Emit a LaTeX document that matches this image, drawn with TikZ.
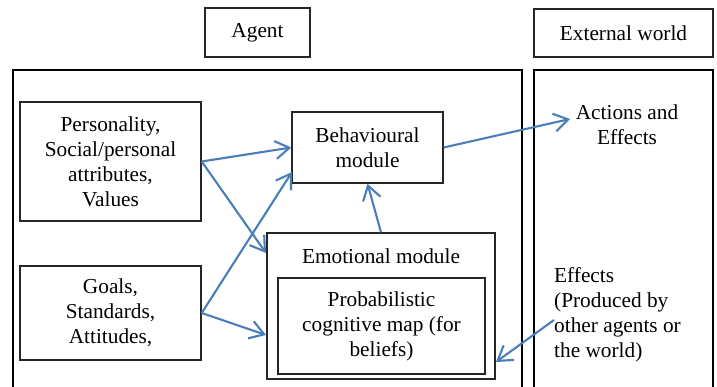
\documentclass[tikz,border=0pt]{standalone}
\usepackage{fontspec}
\setmainfont{Liberation Serif}
\usetikzlibrary{arrows.meta}
\definecolor{arrowblue}{HTML}{4A7EBB}
\begin{document}
\begin{tikzpicture}[x=1pt,y=-1pt,
  txt/.style={font=\fontsize{21.3}{25}\selectfont, align=center, inner sep=0pt},
  box/.style={txt, draw=black!85, line width=1.4pt},
  outer/.style={draw=black, line width=2.8pt},
  arr/.style={draw=arrowblue, line width=2.1pt, -{Straight Barb[length=14pt,width=18pt,line width=2.1pt]}}]
\useasboundingbox (0,0) rectangle (717,387);
\clip (0,0) rectangle (717,387);
% titles
\node[box, minimum width=105pt, minimum height=49pt] (agent) at (257.5,32.5) {Agent};
\node[box, minimum width=179pt, minimum height=48pt] (ext) at (623.5,33) {External world};
% outer frames
\draw[outer] (13,70) rectangle (522,400);
\draw[outer] (534,70) rectangle (713,400);
% agent boxes
\node[box, minimum width=181pt, minimum height=119pt] (pers) at (110.5,161.5) {Personality,\\Social/personal\\attributes,\\Values};
\node[box, minimum width=181pt, minimum height=94pt] (goals) at (110.5,313) {Goals,\\Standards,\\Attitudes,};
\node[box, minimum width=151pt, minimum height=71pt] (beh) at (367.5,147.5) {Behavioural\\module};
\node[box, minimum width=228pt, minimum height=146pt] (emo) at (381,306) {};
\node[txt] (emolab) at (381,256) {Emotional module};
\node[box, minimum width=207pt, minimum height=96pt] (prob) at (381.5,326) {Probabilistic\\cognitive map (for\\beliefs)};
% external world texts
\node[txt] (act) at (627,124.5) {Actions and\\Effects};
\node[txt, align=left, anchor=west] (eff) at (554,315) {Effects\\(Produced by\\other agents or\\the world)};
% connector coordinates
\coordinate (b2) at (292,172);
\coordinate (e1) at (266,253);
\coordinate (e2) at (266,335);
\coordinate (acttip) at (570,119);
\coordinate (effstart) at (554,320);
\coordinate (emotip) at (496,362);
% arrows
\draw[arr] (pers.east) -- (beh.west);
\draw[arr] (pers.east) -- (e1);
\draw[arr] (goals.east) -- (b2);
\draw[arr] (goals.east) -- (e2);
\draw[arr] (emo.north) -- (beh.south);
\draw[arr] (beh.east) -- (acttip);
\draw[arr] (effstart) -- (emotip);
\end{tikzpicture}
\end{document}
